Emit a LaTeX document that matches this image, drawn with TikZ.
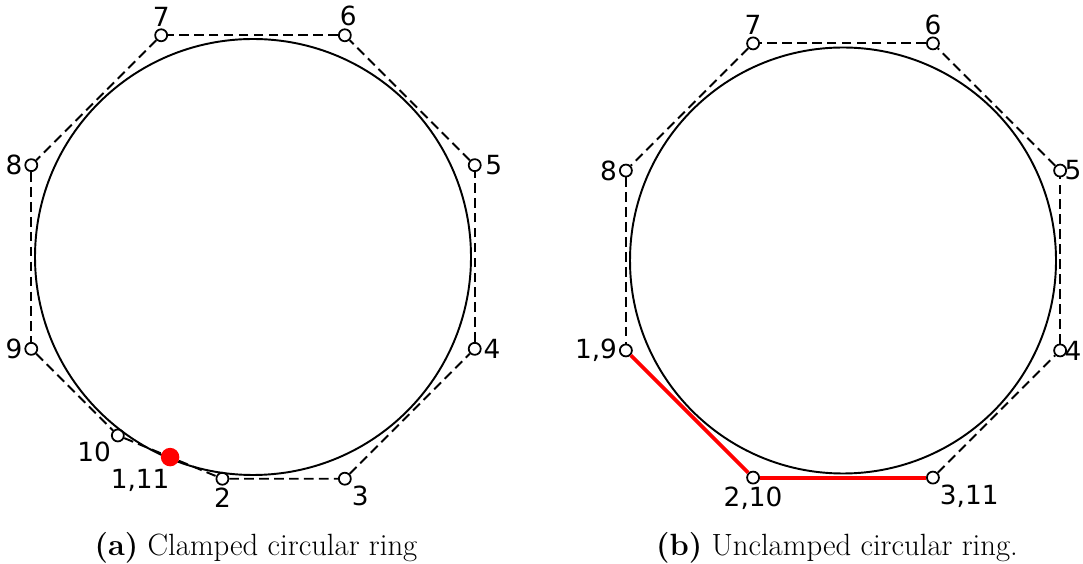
\documentclass[tikz,border=0pt]{standalone}
\usepackage{fontspec}
\newfontfamily\numfont{DejaVu Sans}

\begin{document}
\begin{tikzpicture}[
				vertex/.style={circle, draw, line width=1pt, inner sep=0pt, minimum size=0.24cm},
				clamped/.style={circle, fill=red, inner sep=0pt, minimum size=0.37cm},
				ctrl/.style={line width=1.1pt, dash pattern=on 5.5pt off 3pt},
				ring/.style={line width=1.1pt},
				redge/.style={red, line width=2.2pt},
				every label/.style={font=\numfont\fontsize{15}{17}\selectfont, inner sep=1pt},
				label distance=0pt,
				caption/.style={font=\fontsize{17.5}{20}\selectfont, anchor=base}
				]
				
				\useasboundingbox (0,0) rectangle (21.66,11.26);
				
				% (a) clamped ring
				\begin{scope}[shift={(5.06,6.12)}]
				\draw[ring] (0,0) circle (4.36);
				
				\node[vertex, label=above:{7}] (a7) at (112.5:4.8) {};
				\node[vertex, label={[xshift=2pt]above:{6}}] (a6) at (67.5:4.8) {};
				\node[vertex, label={[label distance=1pt]right:{5}}] (a5) at (22.5:4.8) {};
				\node[vertex, label=right:{4}] (a4) at (-22.5:4.8) {};
				\node[vertex, label=below right:{3}] (a3) at (-67.5:4.8) {};
				\node[vertex, label=below:{2}] (a2) at (-0.612, -4.435) {};
				\node[vertex, label=below left:{10}] (a10) at (-2.703, -3.569) {};
				\node[vertex, label=left:{9}] (a9) at (202.5:4.8) {};
				\node[vertex, label=left:{8}] (a8) at (157.5:4.8) {};
				\node[clamped, label={[xshift=-0.6cm]below:{1,11}}] (a1) at (-1.658, -4.002) {};
				
				\foreach \s/\t in {a2/a3, a3/a4, a4/a5, a5/a6, a6/a7, a7/a8, a8/a9, a9/a10, a10/a1, a1/a2} {
					\draw[ctrl] (\s) -- (\t);
				}
				\end{scope}
				\node[caption] (capa) at (5.12,0.16) {\textbf{(a)} Clamped circular ring};
				
				% (b) unclamped ring
				\begin{scope}[shift={(16.86,6.05)}]
				\draw[ring] (0,0) circle (4.26);
				
				\node[vertex, label=above:{7}] (b7) at (112.5:4.7) {};
				\node[vertex, label=above:{6}] (b6) at (67.5:4.7) {};
				\node[vertex, label={[inner sep=0pt, xshift=-1.5pt]right:{5}}] (b5) at (22.5:4.7) {};
				\node[vertex, label={[inner sep=0pt, xshift=-1.5pt]right:{4}}] (b4) at (-22.5:4.7) {};
				\node[vertex, label=below right:{3,11}] (b3) at (-67.5:4.7) {};
				\node[vertex, label=below:{2,10}] (b2) at (-112.5:4.7) {};
				\node[vertex, label=left:{1,9}] (b1) at (202.5:4.7) {};
				\node[vertex, label=left:{8}] (b8) at (157.5:4.7) {};
				
				\foreach \s/\t in {b3/b4, b4/b5, b5/b6, b6/b7, b7/b8, b8/b1} {
					\draw[ctrl] (\s) -- (\t);
				}
				\draw[redge] (b1) -- (b2);
				\draw[redge] (b2) -- (b3);
				\end{scope}
				\node[caption] (capb) at (16.74,0.16) {\textbf{(b)} Unclamped circular ring.};
			\end{tikzpicture}
\end{document}
